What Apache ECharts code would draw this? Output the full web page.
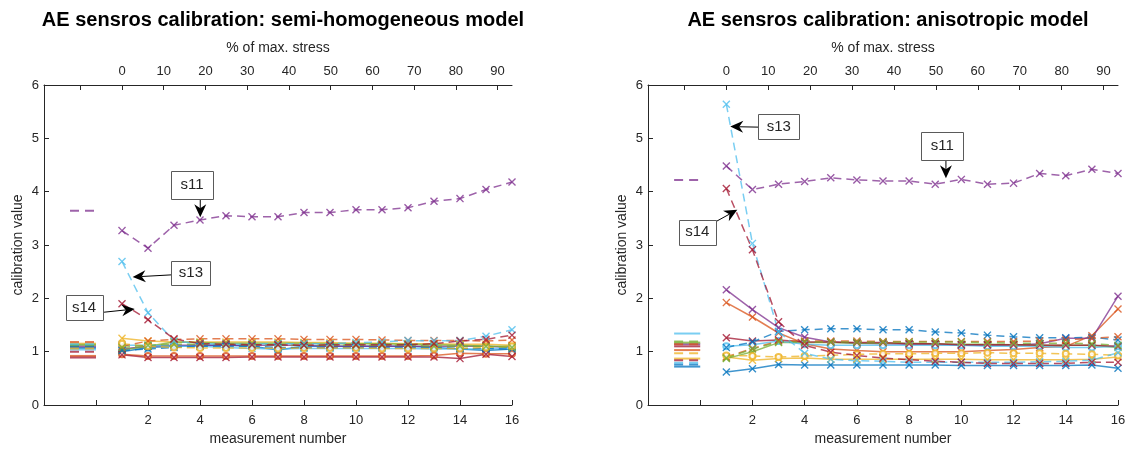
<!DOCTYPE html>
<html>
<head>
<meta charset="utf-8">
<script src="https://cdn.jsdelivr.net/npm/echarts@6/dist/echarts.min.js"></script>
<style>
  html, body { margin: 0; padding: 0; background: #fff; }
  #main { width: 1129px; height: 452px; }
</style>
</head>
<body>
<div id="main"></div>
<script>
// measurement numbers and the matching % of max. stress axis
var measurements = [1, 2, 3, 4, 5, 6, 7, 8, 9, 10, 11, 12, 13, 14, 15, 16];
var measureTicks = [0, 2, 4, 6, 8, 10, 12, 14, 16];
var measureLabels = [2, 4, 6, 8, 10, 12, 14, 16];
var stressTicks = [-10, 0, 10, 20, 30, 40, 50, 60, 70, 80, 90];
var stressLabels = [0, 10, 20, 30, 40, 50, 60, 70, 80, 90];
var stressPerMeasurement = 6.23; // % per measurement step, measurement 1 = 0 %

var sensors = ['s1', 's2', 's3', 's4', 's5', 's6', 's7', 's8', 's9', 's10', 's11', 's12', 's13', 's14'];

// semi-homogeneous model: reference value (short segment) + 16 measurements
var semiRef = [1.07, 0.92, 1.15, 1.1, 1.13, 1.04, 0.89, 1.1, 1.18, 1.06, 3.64, 1.12, 1.14, 1.0];
var semiValues = [
  [1.0, 1.08, 1.1, 1.12, 1.12, 1.1, 1.03, 1.1, 1.1, 1.1, 1.1, 1.1, 1.08, 1.05, 1.02, 1.05],
  [0.95, 0.92, 0.92, 0.92, 0.92, 0.92, 0.92, 0.92, 0.92, 0.92, 0.92, 0.92, 0.93, 0.97, 0.96, 0.96],
  [1.25, 1.2, 1.18, 1.18, 1.18, 1.18, 1.18, 1.17, 1.17, 1.16, 1.16, 1.15, 1.15, 1.14, 1.14, 1.12],
  [1.05, 1.1, 1.12, 1.12, 1.12, 1.12, 1.12, 1.12, 1.1, 1.1, 1.1, 1.1, 1.1, 1.1, 1.1, 1.08],
  [1.03, 1.1, 1.18, 1.17, 1.16, 1.16, 1.16, 1.16, 1.15, 1.15, 1.15, 1.14, 1.13, 1.12, 1.1, 1.1],
  [1.12, 1.12, 1.1, 1.1, 1.08, 1.06, 1.05, 1.06, 1.06, 1.06, 1.06, 1.06, 1.05, 1.05, 1.05, 1.08],
  [0.94, 0.89, 0.89, 0.89, 0.89, 0.9, 0.9, 0.9, 0.9, 0.9, 0.9, 0.9, 0.9, 0.87, 0.95, 0.91],
  [1.02, 1.05, 1.08, 1.1, 1.1, 1.1, 1.08, 1.08, 1.08, 1.08, 1.08, 1.08, 1.08, 1.06, 1.06, 1.05],
  [1.1, 1.2, 1.23, 1.24, 1.24, 1.24, 1.24, 1.23, 1.23, 1.23, 1.22, 1.21, 1.21, 1.21, 1.2, 1.22],
  [1.15, 1.1, 1.08, 1.07, 1.07, 1.07, 1.06, 1.07, 1.07, 1.07, 1.06, 1.06, 1.06, 1.06, 1.08, 1.1],
  [3.27, 2.94, 3.37, 3.47, 3.55, 3.53, 3.53, 3.61, 3.61, 3.66, 3.66, 3.7, 3.82, 3.87, 4.04, 4.18],
  [1.08, 1.12, 1.14, 1.14, 1.14, 1.13, 1.13, 1.12, 1.12, 1.12, 1.12, 1.12, 1.1, 1.1, 1.1, 1.08],
  [2.69, 1.73, 1.2, 1.15, 1.14, 1.14, 1.15, 1.15, 1.15, 1.17, 1.18, 1.21, 1.2, 1.21, 1.29, 1.41],
  [1.9, 1.6, 1.24, 1.15, 1.14, 1.13, 1.13, 1.12, 1.13, 1.13, 1.13, 1.13, 1.15, 1.2, 1.23, 1.31]
];
var semiMarkers = ['o', 'o', 'x', 'x', 'x', 'x', 'x', 'x', 'x', 'o', 'x', 'x', 'x', 'x'];

// anisotropic model
var anisoRef = [0.72, 1.03, 0.87, 1.14, 1.17, 1.34, 1.1, 0.76, 1.14, 0.97, 4.22, 1.19, 0.79, 0.84];
var anisoValues = [
  [0.62, 0.68, 0.76, 0.75, 0.75, 0.75, 0.75, 0.75, 0.75, 0.74, 0.74, 0.74, 0.74, 0.74, 0.75, 0.69],
  [1.92, 1.65, 1.35, 1.15, 1.05, 1.02, 1.0, 1.0, 1.0, 1.0, 1.02, 1.04, 1.08, 1.1, 1.3, 1.8],
  [0.9, 0.84, 0.87, 0.88, 0.86, 0.86, 0.86, 0.86, 0.86, 0.86, 0.85, 0.85, 0.85, 0.85, 0.86, 0.9],
  [2.16, 1.79, 1.45, 1.27, 1.18, 1.16, 1.15, 1.14, 1.14, 1.12, 1.12, 1.12, 1.15, 1.25, 1.25, 2.04],
  [0.87, 1.0, 1.17, 1.17, 1.17, 1.16, 1.16, 1.16, 1.15, 1.14, 1.14, 1.13, 1.12, 1.12, 1.12, 1.08],
  [1.1, 1.13, 1.2, 1.14, 1.12, 1.12, 1.12, 1.12, 1.12, 1.12, 1.1, 1.1, 1.1, 1.08, 1.08, 1.1],
  [1.26, 1.2, 1.22, 1.18, 1.18, 1.17, 1.17, 1.15, 1.15, 1.13, 1.13, 1.13, 1.12, 1.12, 1.12, 1.1],
  [1.08, 1.18, 1.38, 1.41, 1.43, 1.43, 1.41, 1.41, 1.37, 1.35, 1.31, 1.28, 1.26, 1.26, 1.27, 1.22],
  [0.9, 1.06, 1.2, 1.2, 1.2, 1.2, 1.19, 1.19, 1.19, 1.19, 1.19, 1.19, 1.2, 1.22, 1.25, 1.28],
  [0.93, 0.92, 0.9, 0.92, 0.93, 0.95, 0.96, 0.96, 0.97, 0.97, 0.98, 0.97, 0.97, 0.96, 0.95, 0.93],
  [4.48, 4.04, 4.14, 4.19, 4.26, 4.22, 4.2, 4.2, 4.14, 4.23, 4.14, 4.16, 4.34, 4.3, 4.42, 4.34],
  [0.88, 1.05, 1.18, 1.18, 1.18, 1.18, 1.18, 1.18, 1.18, 1.18, 1.17, 1.16, 1.16, 1.16, 1.15, 1.12],
  [5.64, 3.03, 1.37, 0.97, 0.86, 0.83, 0.82, 0.8, 0.8, 0.8, 0.8, 0.8, 0.81, 0.82, 0.84, 0.98],
  [4.06, 2.91, 1.56, 1.12, 0.99, 0.93, 0.88, 0.85, 0.82, 0.8, 0.78, 0.78, 0.78, 0.78, 0.8, 0.8]
];
var anisoMarkers = ['x', 'x', 'x', 'x', 'x', 'o', 'x', 'x', 'x', 'o', 'x', 'x', 'x', 'x'];

// MATLAB default colour order
var palette = ['#0072BD', '#D95319', '#EDB120', '#7E2F8E', '#77AC30', '#4DBEEE', '#A2142F'];
var axisColor = '#262626';
var font = '"Liberation Sans", Arial, Helvetica, sans-serif';
var xSymbol = 'path://M0,1.2L1.2,0L5,3.8L8.8,0L10,1.2L6.2,5L10,8.8L8.8,10L5,6.2L1.2,10L0,8.8L3.8,5Z';

// annotation boxes: sensor label, tail and tip of arrow, box centre (data coords)
var notes = [
  { chart: 0, text: 's11', box: [3.69, 4.12], tail: [4.01, 3.86], tip: [4.01, 3.52], w: 42, h: 28 },
  { chart: 0, text: 's13', box: [3.65, 2.47], tail: [2.9, 2.44], tip: [1.41, 2.4], w: 39, h: 24 },
  { chart: 0, text: 's14', box: [-0.46, 1.83], tail: [0.31, 1.74], tip: [1.49, 1.8], w: 37, h: 25 },
  { chart: 1, text: 's13', box: [3.01, 5.22], tail: [2.22, 5.21], tip: [1.15, 5.22], w: 41, h: 25 },
  { chart: 1, text: 's14', box: [-0.11, 3.24], tail: [0.57, 3.43], tip: [1.42, 3.66], w: 37, h: 25 },
  { chart: 1, text: 's11', box: [9.27, 4.86], tail: [9.41, 4.59], tip: [9.41, 4.25], w: 42, h: 28 }
];

var grids = [
  { left: 44, top: 85, width: 468, height: 320 },
  { left: 648, top: 85, width: 470, height: 320 }
];
var titles = ['AE sensros calibration: semi-homogeneous model', 'AE sensros calibration: anisotropic model'];

var chartDom = document.getElementById('main');
var myChart = echarts.init(chartDom);

var xAxes = [], yAxes = [], series = [];

grids.forEach(function (g, k) {
  xAxes.push({
    gridIndex: k, type: 'value', position: 'bottom', min: -2, max: 16,
    axisLine: { show: true, onZero: false, lineStyle: { color: axisColor } },
    axisTick: { show: true, inside: true, length: 5, customValues: measureTicks, lineStyle: { color: axisColor } },
    axisLabel: { customValues: measureLabels, color: axisColor, fontSize: 13, margin: 9 },
    splitLine: { show: false },
    name: 'measurement number', nameLocation: 'middle', nameGap: 27,
    nameTextStyle: { color: axisColor, fontSize: 14 }
  });
  xAxes.push({
    gridIndex: k, type: 'value', position: 'top',
    min: -3 * stressPerMeasurement, max: 15 * stressPerMeasurement,
    axisLine: { show: true, onZero: false, lineStyle: { color: axisColor } },
    axisTick: { show: true, inside: true, length: 5, customValues: stressTicks, lineStyle: { color: axisColor } },
    axisLabel: { customValues: stressLabels, color: axisColor, fontSize: 13, margin: 7 },
    splitLine: { show: false },
    name: '% of max. stress', nameLocation: 'middle', nameGap: 30,
    nameTextStyle: { color: axisColor, fontSize: 14 }
  });
  yAxes.push({
    gridIndex: k, type: 'value', min: 0, max: 6, interval: 1,
    axisLine: { show: true, onZero: false, lineStyle: { color: axisColor } },
    axisTick: { show: true, inside: true, length: 5, lineStyle: { color: axisColor } },
    axisLabel: { color: axisColor, fontSize: 13, margin: 5 },
    splitLine: { show: false },
    name: 'calibration value', nameLocation: 'middle', nameGap: 19,
    nameTextStyle: { color: axisColor, fontSize: 14 }
  });
});

function addChartSeries(k, values, refs, markers) {
  values.forEach(function (vals, i) {
    var color = palette[i % 7];
    var line = { color: color, width: 1.5, opacity: 0.75, type: i >= 7 ? [8, 5] : 'solid' };
    var isCircle = markers[i] === 'o';
    series.push({
      name: sensors[i], type: 'line', xAxisIndex: 2 * k, yAxisIndex: k,
      data: vals.map(function (v, j) { return [measurements[j], v]; }),
      symbol: isCircle ? 'emptyCircle' : xSymbol, symbolSize: isCircle ? 6 : 8,
      showAllSymbol: true,
      lineStyle: line, itemStyle: { color: color, opacity: 0.8 },
      animation: false, silent: true
    });
    series.push({
      type: 'line', xAxisIndex: 2 * k, yAxisIndex: k,
      data: [[-1, refs[i]], [0, refs[i]]], symbol: 'none',
      lineStyle: { color: color, width: 2, opacity: 0.75, type: i >= 7 ? [9, 6] : 'solid' },
      animation: false, silent: true
    });
  });
}
addChartSeries(0, semiValues, semiRef, semiMarkers);
addChartSeries(1, anisoValues, anisoRef, anisoMarkers);

var option = {
  backgroundColor: '#fff',
  animation: false,
  textStyle: { fontFamily: font },
  title: titles.map(function (t, k) {
    return {
      text: t, left: grids[k].left + grids[k].width / 2, top: 5, textAlign: 'center',
      textStyle: { fontSize: 20, fontWeight: 'bold', color: '#000', fontFamily: font }
    };
  }),
  grid: grids,
  xAxis: xAxes,
  yAxis: yAxes,
  series: series
};
myChart.setOption(option);

// arrows and labelled boxes
var graphics = [];
notes.forEach(function (n) {
  var finder = { xAxisIndex: 2 * n.chart, yAxisIndex: n.chart };
  var tip = myChart.convertToPixel(finder, n.tip);
  var tail = myChart.convertToPixel(finder, n.tail);
  var box = myChart.convertToPixel(finder, n.box);
  var dx = tip[0] - tail[0], dy = tip[1] - tail[1];
  var len = Math.sqrt(dx * dx + dy * dy);
  var ux = dx / len, uy = dy / len, px = -uy, py = ux;
  var L = 13, W = 6, notch = 9;
  graphics.push({
    type: 'line', z: 100,
    shape: { x1: tail[0], y1: tail[1], x2: tip[0] - notch * ux, y2: tip[1] - notch * uy },
    style: { stroke: '#000', lineWidth: 1 }
  });
  graphics.push({
    type: 'polygon', z: 100,
    shape: { points: [
      [tip[0], tip[1]],
      [tip[0] - L * ux + W * px, tip[1] - L * uy + W * py],
      [tip[0] - notch * ux, tip[1] - notch * uy],
      [tip[0] - L * ux - W * px, tip[1] - L * uy - W * py]
    ] },
    style: { fill: '#000' }
  });
  graphics.push({
    type: 'rect', z: 100,
    shape: { x: Math.round(box[0] - n.w / 2) + 0.5, y: Math.round(box[1] - n.h / 2) + 0.5, width: n.w, height: n.h },
    style: { fill: '#fff', stroke: '#5a5a5a', lineWidth: 1 }
  });
  graphics.push({
    type: 'text', z: 101,
    style: { text: n.text, x: box[0], y: box[1], align: 'center', verticalAlign: 'middle',
      font: '15px ' + font, fill: axisColor }
  });
});
myChart.setOption({ graphic: graphics });
</script>
</body>
</html>
